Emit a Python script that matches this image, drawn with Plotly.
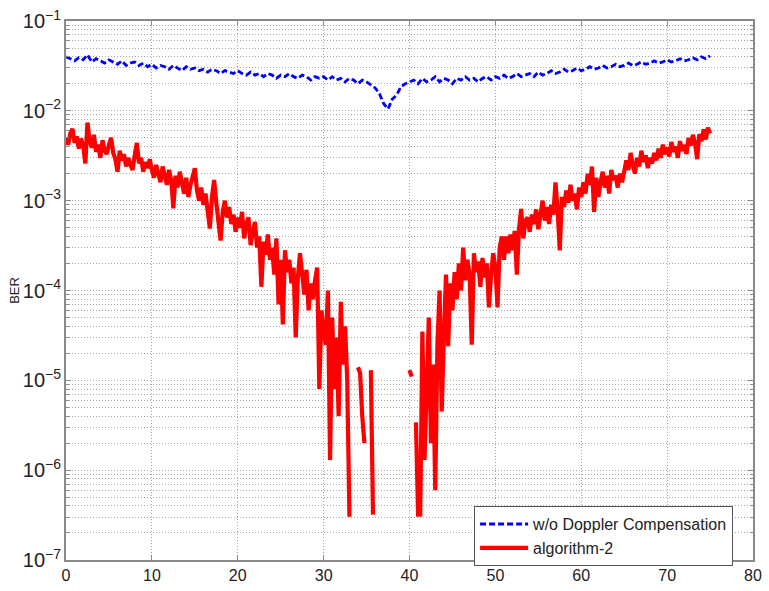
import plotly.graph_objects as go

# Sample spacing of each series (distance along x)
blue_step = 0.5
red_step = 0.25

# BER without Doppler compensation, x = 0 .. 75 step 0.5
blue_ber = [
    4.0e-2, 3.8e-2, 3.6e-2, 3.9e-2, 3.7e-2, 4.2e-2, 3.5e-2, 3.8e-2, 3.6e-2, 3.4e-2,
    3.7e-2, 3.5e-2, 3.3e-2, 3.6e-2, 3.2e-2, 3.4e-2, 3.5e-2, 3.2e-2, 3.4e-2, 3.1e-2,
    3.3e-2,
    3.0e-2, 3.2e-2, 3.1e-2, 2.9e-2, 3.2e-2, 3.0e-2, 2.8e-2, 3.1e-2, 2.9e-2, 3.0e-2,
    2.8e-2, 2.9e-2, 2.7e-2, 2.9e-2, 2.8e-2, 2.6e-2, 2.8e-2, 2.7e-2, 2.6e-2, 2.8e-2,
    2.6e-2, 2.5e-2, 2.7e-2, 2.5e-2, 2.6e-2, 2.4e-2, 2.6e-2, 2.5e-2, 2.3e-2, 2.5e-2,
    2.4e-2, 2.6e-2, 2.4e-2, 2.3e-2, 2.5e-2, 2.4e-2, 2.2e-2, 2.4e-2, 2.3e-2, 2.4e-2,
    2.2e-2, 2.4e-2, 2.2e-2, 2.3e-2, 2.1e-2, 2.3e-2, 2.2e-2, 2.0e-2, 2.2e-2, 2.1e-2,
    1.95e-2, 1.8e-2, 1.55e-2, 1.2e-2, 1.05e-2, 1.35e-2, 1.5e-2, 1.85e-2, 2.0e-2, 2.1e-2,
    2.2e-2, 2.0e-2, 2.3e-2, 2.1e-2, 2.2e-2, 2.4e-2, 2.1e-2, 2.3e-2, 2.2e-2, 2.0e-2,
    2.3e-2, 2.2e-2, 2.4e-2, 2.2e-2, 2.3e-2, 2.1e-2, 2.3e-2, 2.4e-2, 2.2e-2, 2.4e-2,
    2.3e-2, 2.5e-2, 2.3e-2, 2.4e-2, 2.6e-2, 2.4e-2, 2.5e-2, 2.6e-2, 2.4e-2, 2.7e-2,
    2.5e-2, 2.6e-2, 2.8e-2, 2.6e-2, 2.7e-2, 2.9e-2, 2.7e-2, 2.8e-2, 3.0e-2, 2.8e-2,
    2.9e-2, 3.1e-2, 2.9e-2, 3.0e-2, 3.2e-2, 3.0e-2, 3.1e-2, 3.3e-2, 3.1e-2, 3.2e-2,
    3.4e-2, 3.2e-2, 3.3e-2, 3.5e-2, 3.3e-2, 3.4e-2, 3.6e-2, 3.4e-2, 3.5e-2, 3.7e-2,
    3.5e-2, 3.6e-2, 3.8e-2, 3.6e-2, 3.7e-2, 3.9e-2, 3.7e-2, 4.0e-2, 3.8e-2, 4.1e-2,
]

# BER of algorithm-2, x = 0 .. 75 step 0.25 (None = no errors, not drawn on log scale)
red_ber = [
    # 0 .. 5
    5.0e-3, 4.2e-3, 5.6e-3, 6.3e-3, 4.4e-3, 5.2e-3, 3.8e-3, 4.9e-3, 4.1e-3, 2.6e-3,
    7.4e-3, 4.6e-3, 3.9e-3, 5.4e-3, 3.5e-3, 4.2e-3, 3.0e-3, 4.7e-3, 3.6e-3, 3.3e-3,
    4.2e-3,
    # 5.25 .. 10
    5.0e-3, 3.4e-3, 2.9e-3, 2.1e-3, 3.6e-3, 2.8e-3, 3.3e-3, 2.4e-3, 3.0e-3, 2.5e-3,
    2.2e-3, 3.2e-3, 4.4e-3, 2.6e-3, 3.0e-3, 2.1e-3, 2.7e-3, 2.3e-3, 2.9e-3, 2.2e-3,
    # 10.25 .. 15
    1.8e-3, 2.5e-3, 2.0e-3, 1.6e-3, 2.4e-3, 1.9e-3, 1.5e-3, 2.2e-3, 1.7e-3, 8.2e-4,
    1.9e-3, 1.4e-3, 2.1e-3, 1.6e-3, 1.2e-3, 1.8e-3, 1.1e-3, 1.5e-3, 1.9e-3, 2.3e-3,
    # 15.25 .. 20
    1.3e-3, 1.0e-3, 1.4e-3, 9.0e-4, 1.2e-3, 8.0e-4, 4.9e-4, 1.1e-3, 1.7e-3, 9.5e-4,
    6.0e-4, 3.6e-4, 7.5e-4, 1.0e-3, 6.5e-4, 8.5e-4, 5.5e-4, 7.0e-4, 4.5e-4, 6.5e-4,
    # 20.25 .. 25
    5.0e-4, 7.5e-4, 3.8e-4, 5.5e-4, 6.5e-4, 3.2e-4, 4.5e-4, 5.8e-4, 3.0e-4, 4.0e-4,
    1.1e-4, 3.5e-4, 2.5e-4, 4.2e-4, 2.2e-4, 3.0e-4, 1.5e-4, 3.8e-4, 7.0e-5, 2.2e-4,
    # 25.25 .. 30
    4.2e-5, 2.8e-4, 1.6e-4, 2.2e-4, 1.2e-4, 1.8e-4, 3.0e-5, 1.4e-4, 2.6e-4, 1.5e-4,
    9.0e-5, 1.7e-4, 6.0e-5, 1.2e-4, 8.0e-5, 1.3e-4, 1.8e-4, 8.0e-6, 6.0e-5, 3.5e-5,
    # 30.25 .. 36
    2.5e-5, 1.0e-4, 1.3e-6, 5.0e-5, 8.0e-6, 3.0e-5, 4.0e-6, 7.5e-5, 1.5e-5, 4.0e-5,
    1.0e-5, 3.2e-7, 3.2e-7, None, None, 1.4e-5, 1.2e-5, 4.0e-6, 2.0e-6, None,
    None, 1.3e-5, 3.2e-7, None,
    # 36.25 .. 39.75
    None, None, None, None, None, None, None, None, None, None,
    None, None, None, None, None,
    # 40 .. 45
    1.3e-5, 1.1e-5, None, 3.4e-6, 3.2e-7, 3.2e-7, 3.5e-5, 1.3e-6, 8.0e-6, 5.0e-5,
    2.0e-6, 1.5e-5, 6.0e-7, 2.5e-5, 1.0e-4, 4.5e-6, 3.0e-5, 1.5e-4, 2.4e-5, 1.2e-4,
    6.0e-5,
    # 45.25 .. 50
    1.6e-4, 8.0e-5, 2.0e-4, 1.0e-4, 3.0e-4, 1.3e-4, 2.2e-4, 1.5e-4, 2.5e-5, 2.6e-4,
    1.6e-4, 2.1e-4, 1.1e-4, 2.3e-4, 1.4e-4, 2.0e-4, 6.5e-5, 1.5e-4, 2.6e-4, 1.8e-4,
    # 50.25 .. 55
    6.5e-5, 3.0e-4, 4.0e-4, 2.2e-4, 4.0e-4, 2.6e-4, 4.2e-4, 2.8e-4, 4.6e-4, 1.5e-4,
    4.8e-4, 8.1e-4, 3.8e-4, 6.0e-4, 6.5e-4, 4.5e-4, 7.0e-4, 5.5e-4, 8.0e-4, 4.8e-4,
    # 55.25 .. 60
    7.5e-4, 1.0e-3, 6.0e-4, 8.5e-4, 5.5e-4, 9.0e-4, 7.0e-4, 1.6e-3, 8.0e-4, 2.8e-4,
    1.1e-3, 8.5e-4, 1.3e-3, 9.5e-4, 1.5e-3, 1.0e-3, 1.2e-3, 8.0e-4, 1.4e-3, 1.1e-3,
    # 60.25 .. 65
    1.6e-3, 1.2e-3, 2.0e-3, 1.5e-3, 2.4e-3, 7.5e-4, 1.8e-3, 1.1e-3, 1.6e-3, 2.1e-3,
    1.4e-3, 1.9e-3, 1.2e-3, 2.2e-3, 1.7e-3, 1.9e-3, 1.4e-3, 2.0e-3, 1.6e-3, 2.3e-3,
    # 65.25 .. 70
    2.8e-3, 2.2e-3, 3.4e-3, 2.5e-3, 2.0e-3, 3.0e-3, 2.4e-3, 3.6e-3, 2.7e-3, 3.2e-3,
    2.3e-3, 3.0e-3, 2.6e-3, 3.4e-3, 2.8e-3, 3.8e-3, 3.0e-3, 4.2e-3, 3.3e-3, 3.9e-3,
    # 70.25 .. 75
    3.1e-3, 4.5e-3, 3.5e-3, 4.0e-3, 3.0e-3, 4.6e-3, 3.6e-3, 4.2e-3, 3.3e-3, 5.0e-3,
    4.1e-3, 5.4e-3, 4.4e-3, 2.9e-3, 5.5e-3, 4.6e-3, 6.2e-3, 4.8e-3, 6.5e-3, 5.6e-3,
]

series_names = ["w/o Doppler Compensation", "algorithm-2"]
x_ticks = [0, 10, 20, 30, 40, 50, 60, 70, 80]

blue_x = [i * blue_step for i in range(len(blue_ber))]
red_x = [i * red_step for i in range(len(red_ber))]

fig = go.Figure()
fig.add_trace(go.Scatter(
    x=blue_x, y=blue_ber, mode="lines", name=series_names[0],
    line=dict(color="#0000ff", width=2.8, dash="6px,3px"),
))
fig.add_trace(go.Scatter(
    x=red_x, y=red_ber, mode="lines", name=series_names[1],
    line=dict(color="#ff0000", width=4.2),
    connectgaps=False,
))

font_family = "Liberation Sans, Arial, sans-serif"
grid_col = "#a8a8a8"
grid_dash = "1px,2px"
axis_col = "#8a8a8a"

fig.update_layout(
    width=769, height=591,
    margin=dict(l=66, r=7, t=18, b=23),
    paper_bgcolor="white", plot_bgcolor="white",
    font=dict(family=font_family, size=16, color="#222"),
    showlegend=True,
    legend=dict(
        x=0.971, y=0.10, xanchor="right", yanchor="top",
        bgcolor="white", bordercolor="#555", borderwidth=1,
        font=dict(size=16, color="#222"),
        tracegroupgap=0, itemwidth=48,
    ),
)

fig.update_xaxes(
    range=[0, 80], tickvals=x_ticks,
    showgrid=True, gridcolor=grid_col, griddash=grid_dash, gridwidth=1,
    showline=True, linecolor=axis_col, linewidth=1.5, mirror="ticks",
    ticks="inside", ticklen=5, tickcolor=axis_col,
    zeroline=False,
    tickfont=dict(size=16, color="#222"),
)
fig.update_yaxes(
    type="log", range=[-7, -1], dtick=1,
    exponentformat="power",
    showgrid=True, gridcolor=grid_col, griddash=grid_dash, gridwidth=1,
    minor=dict(dtick="D1", showgrid=True, gridcolor=grid_col, griddash=grid_dash,
               gridwidth=1, ticks="inside", ticklen=3, tickcolor=axis_col),
    showline=True, linecolor=axis_col, linewidth=1.5, mirror="ticks",
    ticks="inside", ticklen=5, tickcolor=axis_col,
    zeroline=False,
    title=dict(text="BER", font=dict(size=13, color="#222"), standoff=0),
    tickfont=dict(size=16, color="#222"),
)

fig.write_html("out.html")
